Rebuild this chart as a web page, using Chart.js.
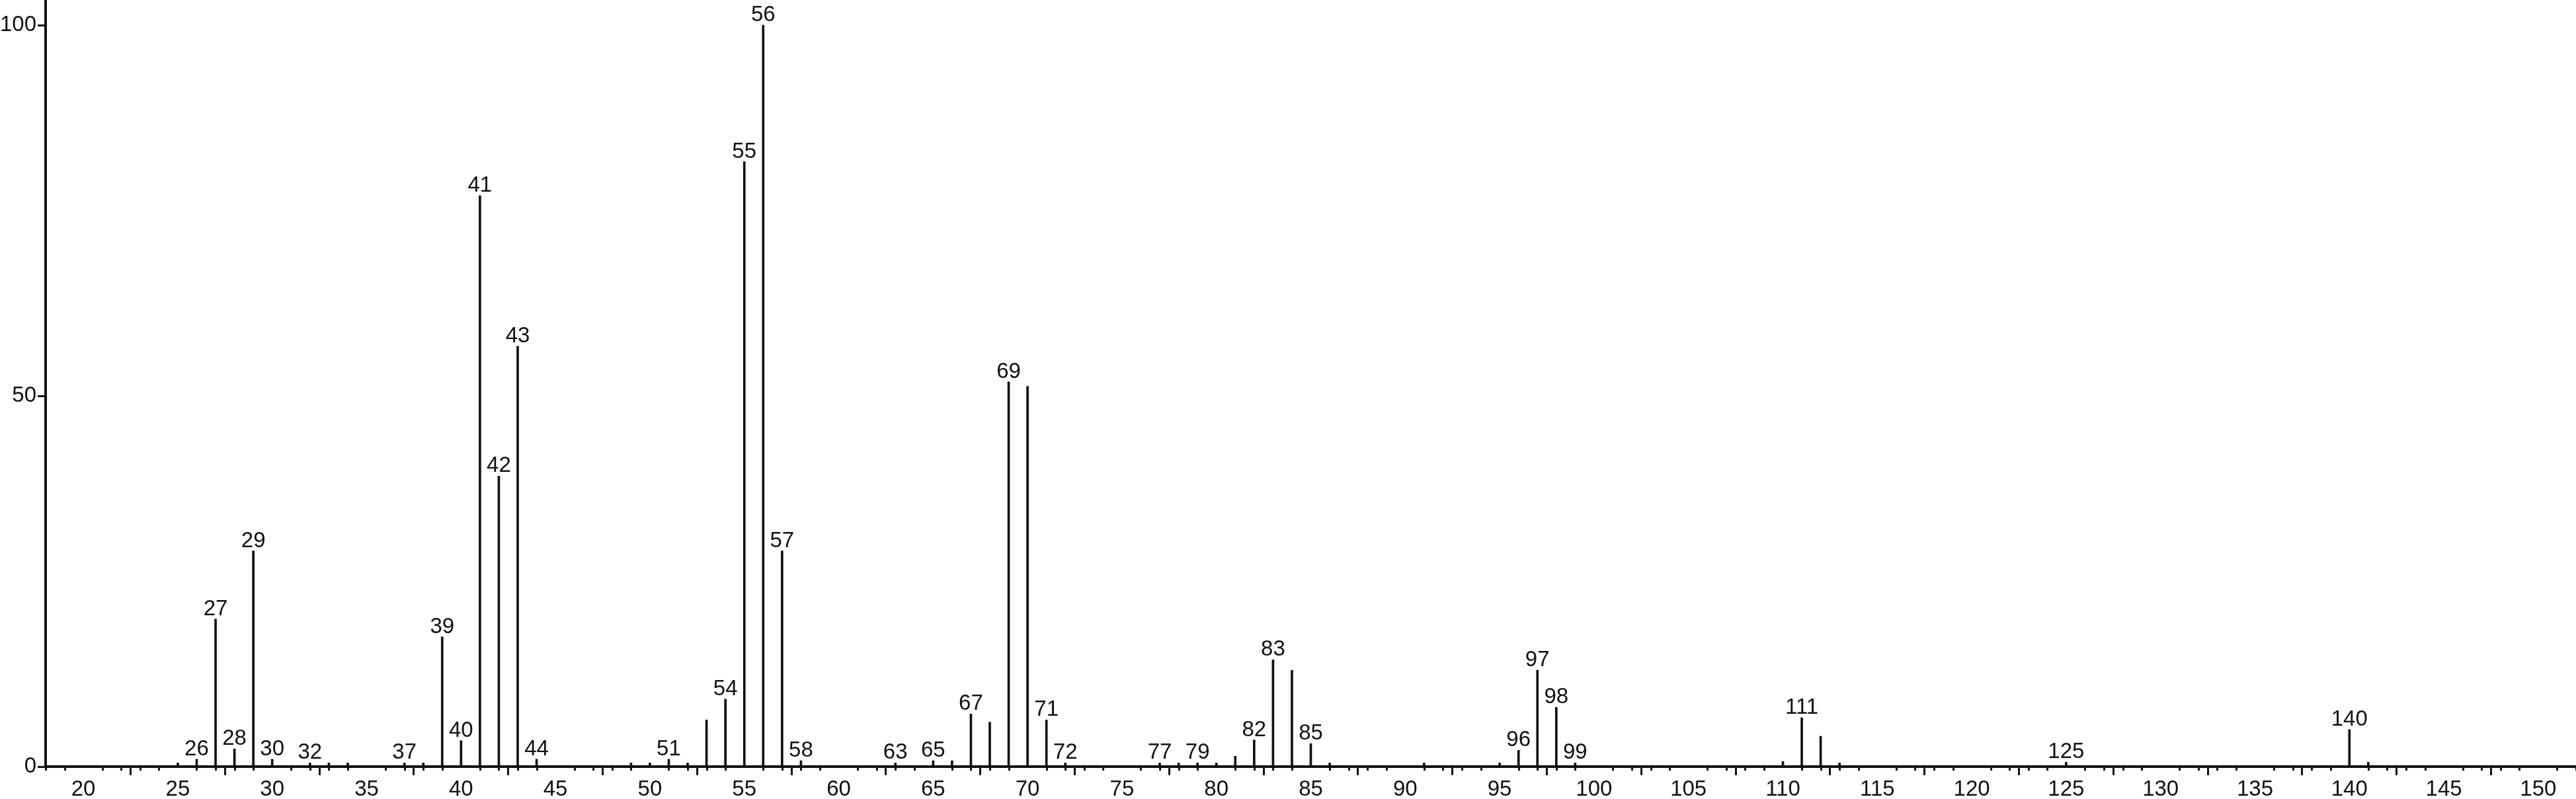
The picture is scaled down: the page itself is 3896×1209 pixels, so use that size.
<!DOCTYPE html>
<html>
<head>
<meta charset="utf-8">
<script src="https://cdn.jsdelivr.net/npm/chart.js@4.4.1/dist/chart.umd.min.js"></script>
<style>
  body { margin: 0; background: #fff; }
  #wrap { width: 3896px; height: 1209px; }
</style>
</head>
<body>
<div id="wrap"><canvas id="myChart"></canvas></div>
<script>
// m/z values and relative intensities
var mzValues = [25, 26, 27, 28, 29, 30, 32, 33, 34, 37, 38, 39, 40, 41, 42, 43, 44,
    49, 50, 51, 52, 53, 54, 55, 56, 57, 58, 63, 65, 66, 67, 68, 69, 70, 71, 72,
    77, 78, 79, 80, 81, 82, 83, 84, 85, 86, 91, 95, 96, 97, 98, 99,
    110, 111, 112, 113, 125, 140, 141];
var intensities = [0.5, 1.0, 19.9, 2.4, 29.1, 1.0, 0.5, 0.5, 0.5, 0.5, 0.5, 17.5, 3.5, 77.0, 39.2, 56.7, 1.0,
    0.5, 0.5, 1.0, 0.5, 6.3, 9.1, 81.6, 100, 29.1, 0.8, 0.5, 0.8, 0.8, 7.1, 6.0, 51.9, 51.3, 6.3, 0.5,
    0.5, 0.5, 0.5, 0.5, 1.4, 3.6, 14.4, 13.0, 3.1, 0.5, 0.5, 0.5, 2.2, 13.0, 8.0, 0.5,
    0.7, 6.6, 4.1, 0.5, 0.6, 5.0, 0.6];
// peaks that carry a number above them
var labeledPeaks = [26, 27, 28, 29, 30, 32, 37, 39, 40, 41, 42, 43, 44, 51, 54, 55, 56, 57, 58,
    63, 65, 67, 69, 71, 72, 77, 79, 82, 83, 85, 96, 97, 98, 99, 111, 125, 140];
var xMajorTicks = [20, 25, 30, 35, 40, 45, 50, 55, 60, 65, 70, 75, 80, 85, 90, 95, 100,
    105, 110, 115, 120, 125, 130, 135, 140, 145, 150];
var yTicks = [0, 50, 100];

var ink = '#111';
var fontFamily = '"Liberation Sans", Arial, sans-serif';

var points = [];
for (var i = 0; i < mzValues.length; i++) {
    points.push({ x: mzValues[i], y: intensities[i] });
}

// minor ticks every 1 m/z unit and peak numbers
var spectrumExtras = {
    id: 'spectrumExtras',
    afterDraw: function(chart) {
        var ctx = chart.ctx;
        var xs = chart.scales.x;
        var y0 = chart.chartArea.bottom;
        ctx.save();
        ctx.strokeStyle = ink;
        ctx.lineWidth = 3;
        for (var v = Math.ceil(xs.min); v <= Math.floor(xs.max); v++) {
            if (xMajorTicks.indexOf(v) >= 0) continue;
            var px = Math.round(xs.getPixelForValue(v)) + 0.5;
            ctx.beginPath();
            ctx.moveTo(px, y0);
            ctx.lineTo(px, y0 + 6);
            ctx.stroke();
        }
        ctx.restore();

        var meta = chart.getDatasetMeta(0);
        ctx.save();
        ctx.fillStyle = ink;
        ctx.font = '33px ' + fontFamily;
        ctx.textAlign = 'center';
        ctx.textBaseline = 'alphabetic';
        meta.data.forEach(function(bar, idx) {
            var mz = mzValues[idx];
            if (labeledPeaks.indexOf(mz) < 0) return;
            ctx.fillText(String(mz), bar.x, bar.y - 6);
        });
        ctx.restore();
    }
};

const ctx = document.getElementById('myChart');
const myChart = new Chart(ctx, {
    type: 'bar',
    data: {
        datasets: [{
            data: points,
            backgroundColor: ink,
            borderWidth: 0,
            barThickness: 3
        }]
    },
    options: {
        responsive: true,
        maintainAspectRatio: false,
        animation: false,
        layout: { padding: 0 },
        plugins: {
            legend: { display: false },
            tooltip: { enabled: false }
        },
        scales: {
            x: {
                type: 'linear',
                min: 18,
                max: 152,
                offset: false,
                afterBuildTicks: function(scale) {
                    scale.ticks = xMajorTicks.map(function(v) { return { value: v }; });
                },
                afterFit: function(scale) {
                    scale.height = 49;
                    scale.paddingLeft = 0;
                    scale.paddingRight = 0;
                },
                border: { display: true, color: ink, width: 4 },
                grid: {
                    drawOnChartArea: false,
                    drawTicks: true,
                    tickLength: 13,
                    tickWidth: 3,
                    tickColor: ink
                },
                ticks: {
                    autoSkip: false,
                    maxRotation: 0,
                    padding: 2,
                    color: ink,
                    font: { family: fontFamily, size: 33 }
                }
            },
            y: {
                min: 0,
                max: 103.4,
                afterBuildTicks: function(scale) {
                    scale.ticks = yTicks.map(function(v) { return { value: v }; });
                },
                afterFit: function(scale) {
                    scale.width = 69;
                    scale.paddingTop = 0;
                    scale.paddingBottom = 0;
                },
                border: { display: true, color: ink, width: 4 },
                grid: {
                    drawOnChartArea: false,
                    drawTicks: true,
                    tickLength: 12,
                    tickWidth: 3,
                    tickColor: ink
                },
                ticks: {
                    padding: 2,
                    color: ink,
                    font: { family: fontFamily, size: 33 }
                }
            }
        }
    },
    plugins: [spectrumExtras]
});
</script>
</body>
</html>
